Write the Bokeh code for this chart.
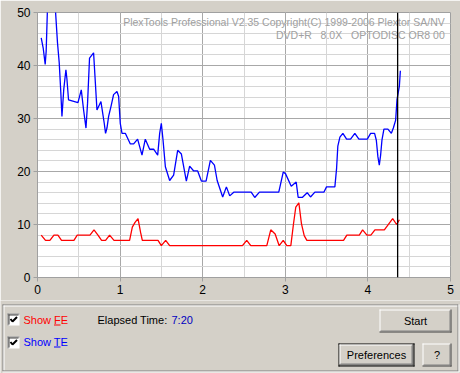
from bokeh.plotting import figure
from bokeh.models import Range1d, SingleIntervalTicker, Span
from bokeh.embed import file_html
from bokeh.resources import INLINE
from bokeh.core.properties import value

BG = "#D4D0C8"
FONT = "Liberation Sans"

# ---------------- data ----------------
te_x = [0.045, 0.069, 0.093, 0.105, 0.121, 0.135, 0.2, 0.215, 0.242, 0.263, 0.282, 0.296,
        0.318, 0.344, 0.356, 0.376, 0.49, 0.53, 0.558, 0.587, 0.606, 0.63, 0.679, 0.72,
        0.768, 0.808, 0.824, 0.841, 0.861, 0.89, 0.921, 0.962, 0.982, 1.002, 1.023, 1.063,
        1.124, 1.164, 1.212, 1.265, 1.305, 1.358, 1.406, 1.455, 1.479, 1.499, 1.52, 1.548,
        1.6, 1.648, 1.697, 1.742, 1.802, 1.842, 1.891, 1.939, 1.984, 2.041, 2.093, 2.142,
        2.175, 2.242, 2.287, 2.327, 2.376, 2.587, 2.63, 2.687, 2.921, 2.975, 3.002, 3.072,
        3.132, 3.156, 3.205, 3.265, 3.305, 3.358, 3.467, 3.499, 3.6, 3.621, 3.636, 3.661,
        3.697, 3.742, 3.79, 3.842, 3.891, 3.993, 4.033, 4.081, 4.102, 4.121, 4.138, 4.154,
        4.17, 4.194, 4.242, 4.284, 4.308, 4.336, 4.352, 4.381, 4.393]
te_y = [45.2, 43.3, 40.2, 42.7, 51.0, 56.0, 56.0, 51.0, 44.3, 40.5, 35.0, 30.4,
        35.5, 39.2, 37.5, 33.5, 33.0, 35.4, 31.6, 28.2, 32.9, 41.4, 42.4, 31.6,
        33.2, 29.1, 27.2, 28.2, 30.4, 32.3, 34.5, 35.1, 34.2, 29.1, 27.2, 27.2,
        25.2, 25.2, 26.1, 23.1, 26.1, 24.2, 24.2, 23.1, 27.2, 29.1, 25.9, 20.9,
        18.3, 19.3, 24.0, 23.3, 18.2, 21.0, 20.1, 20.1, 18.2, 18.2, 22.1, 21.2,
        18.3, 15.2, 17.1, 15.4, 16.1, 16.1, 15.1, 16.1, 16.1, 19.9, 19.6, 17.2,
        18.0, 15.1, 15.1, 16.0, 15.2, 16.1, 16.1, 17.1, 17.1, 20.6, 24.8, 26.5,
        27.2, 26.1, 26.1, 27.2, 26.1, 26.1, 27.2, 27.2, 25.9, 22.8, 21.2, 23.1,
        25.9, 28.0, 28.0, 27.2, 28.2, 29.7, 33.5, 36.1, 39.0]

fe_x = [0.045, 0.097, 0.15, 0.199, 0.247, 0.291, 0.441, 0.481, 0.635, 0.684, 0.732, 0.776,
        0.824, 0.873, 0.926, 1.115, 1.148, 1.181, 1.217, 1.248, 1.269, 1.459, 1.499, 1.552,
        1.6, 2.481, 2.533, 2.582, 2.776, 2.824, 2.877, 2.926, 2.975, 3.018, 3.067, 3.099,
        3.127, 3.164, 3.196, 3.229, 3.261, 3.705, 3.745, 3.896, 3.936, 3.988, 4.036, 4.085,
        4.199, 4.3, 4.348, 4.381]
fe_y = [8, 7, 7, 8, 8, 7, 7, 8, 8, 9, 8, 7,
        7, 8, 7, 7, 9.5, 10.4, 11.1, 8.5, 7, 7, 6, 7,
        6, 6, 7, 6, 6, 9, 8.2, 6, 7, 6, 6, 10.1,
        13.3, 14.1, 10.1, 7.9, 7, 7, 8, 8, 9, 8, 8, 9,
        9, 11.1, 10, 10.9]

x_ticks = [0, 1, 2, 3, 4, 5]
y_ticks = [0, 10, 20, 30, 40, 50]
cursor_pos = 4.36
NB = "\u00a0"
header_lines = ["PlexTools Professional V2.35 Copyright(C) 1999-2006 Plextor SA/NV",
                "DVD+R" + NB * 3 + "8.0X" + NB * 3 + "OPTODISC OR8 00"]
elapsed = "7:20"

# ---------------- chart ----------------
p = figure(width=460, height=300, x_range=Range1d(0, 5), y_range=Range1d(0, 50),
           output_backend="svg", toolbar_location=None,
           min_border_left=37, min_border_right=10, min_border_top=12, min_border_bottom=23)
p.background_fill_color = "white"
p.border_fill_color = BG
p.outline_line_color = "#A0A0A0"

p.xaxis.ticker = SingleIntervalTicker(interval=1, num_minor_ticks=2)
p.yaxis.ticker = SingleIntervalTicker(interval=10, num_minor_ticks=5)
for ax in (p.xaxis, p.yaxis):
    ax.axis_line_color = "#A0A0A0"
    ax.major_tick_line_color = "#A0A0A0"
    ax.major_tick_out = 4
    ax.major_tick_in = 0
    ax.minor_tick_line_color = None
    ax.major_label_text_font = FONT
    ax.major_label_text_font_size = "12px"
    ax.major_label_text_color = "black"
    ax.major_label_standoff = 3
for g in (p.xgrid, p.ygrid):
    g.grid_line_color = "#A8A8A8"
    g.minor_grid_line_color = "#D6D6D6"

p.line(fe_x, fe_y, line_color="#FF0000", line_width=1.3)
p.line(te_x, te_y, line_color="#0000FF", line_width=1.3)

p.add_layout(Span(location=cursor_pos, dimension="height", line_color="black", line_width=1.3))

p.text(x=[4.93, 4.93], y=[48.3, 45.7], text=header_lines,
       text_font=value(FONT), text_font_size="10.5px", text_color="#A0A0A0",
       text_align="right", text_baseline="middle")

# ---------------- control panel ----------------
q = figure(width=460, height=73, x_range=Range1d(0, 460), y_range=Range1d(373, 300),
           output_backend="svg", toolbar_location=None, x_axis_type=None, y_axis_type=None,
           min_border=0)
q.background_fill_color = BG
q.border_fill_color = BG
q.outline_line_color = None
TXT = "11px"


def hline(x0, x1, y, c):
    q.segment(x0=[x0], y0=[y], x1=[x1], y1=[y], line_color=c, line_width=1)


def vline(x, y0, y1, c):
    q.segment(x0=[x], y0=[y0], x1=[x], y1=[y1], line_color=c, line_width=1)


# group box (etched)
hline(2, 457.5, 304.5, "#808080"); vline(2.5, 304, 370.5, "#808080")
hline(3, 458.5, 305.5, "white"); vline(3.5, 305, 370, "white")
hline(2, 458.5, 370.5, "#808080"); vline(457.5, 304, 370.5, "#808080")
hline(2, 459, 371.5, "white"); vline(458.5, 304, 371.5, "white")


def checkbox(x0, y0):
    q.quad(left=[x0], right=[x0 + 12], top=[y0], bottom=[y0 + 12], fill_color="white", line_color=None)
    hline(x0, x0 + 12, y0 + 0.5, "#808080"); vline(x0 + 0.5, y0, y0 + 12, "#808080")
    hline(x0 + 1, x0 + 11, y0 + 1.5, "#404040"); vline(x0 + 1.5, y0 + 1, y0 + 11, "#404040")
    q.line(x=[x0 + 3, x0 + 5, x0 + 9.5], y=[y0 + 5.5, y0 + 8, y0 + 3.5], line_color="black", line_width=2)


checkbox(7, 313)
checkbox(7, 336)

q.text(x=[23], y=[319], text=["Show FE"], text_font=value(FONT), text_font_size=TXT,
       text_color="#FF0000", text_baseline="middle")
hline(53.5, 60, 324.5, "#FF0000")
q.text(x=[23], y=[341.5], text=["Show TE"], text_font=value(FONT), text_font_size=TXT,
       text_color="#0000FF", text_baseline="middle")
hline(53.5, 60, 346.5, "#0000FF")
q.text(x=[97], y=[319], text=["Elapsed Time:"], text_font=value(FONT), text_font_size=TXT,
       text_color="black", text_baseline="middle")
q.text(x=[171], y=[319], text=[elapsed], text_font=value(FONT), text_font_size=TXT,
       text_color="#0000C0", text_baseline="middle")


def button(x0, x1, y0, y1, label, default=False):
    q.quad(left=[x0], right=[x1], top=[y0], bottom=[y1], fill_color=BG, line_color=None)
    if default:
        hline(x0, x1, y0 + 0.5, "black"); hline(x0, x1, y1 - 0.5, "black")
        vline(x0 + 0.5, y0, y1, "black"); vline(x1 - 0.5, y0, y1, "black")
        x0 += 1; x1 -= 1; y0 += 1; y1 -= 1
    hline(x0, x1 - 1, y0 + 0.5, "white"); vline(x0 + 0.5, y0, y1 - 1, "white")
    hline(x0, x1, y1 - 0.5, "#404040"); vline(x1 - 0.5, y0, y1, "#404040")
    hline(x0 + 1, x1 - 1, y1 - 1.5, "#808080"); vline(x1 - 1.5, y0 + 1, y1 - 1, "#808080")
    q.text(x=[(x0 + x1) / 2], y=[(y0 + y1) / 2], text=[label], text_font=value(FONT),
           text_font_size=TXT, text_color="black", text_align="center", text_baseline="middle")


button(379, 451, 309, 332, "Start")
button(338, 414, 343, 366, "Preferences", default=True)
button(422, 451, 343, 366, "?")

open("out.html", "w").write(file_html([p, q], INLINE))
